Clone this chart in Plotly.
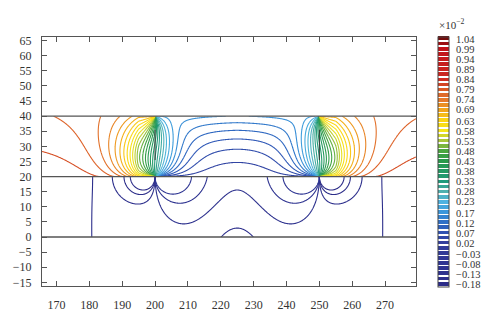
import numpy as np
import plotly.graph_objects as go

# ---------------- data ----------------
x_ticks = [170, 180, 190, 200, 210, 220, 230, 240, 250, 260, 270]
y_ticks = [-15, -10, -5, 0, 5, 10, 15, 20, 25, 30, 35, 40, 45, 50, 55, 60, 65]
x_range = [165.6, 279.4]
y_range = [-16.2, 66.2]
layer_bounds = [0, 20, 40]          # horizontal interfaces
electrode_x = [200, 250]            # vertical electrodes (y from 20 to 40)
electrode_mark_y = [25.5, 35.5]     # dark core drawn on the electrodes
side_wall_x = [181, 269]            # outer limit of the lower-layer field
cbar_ticks = [-0.18, -0.13, -0.08, -0.03, 0.02, 0.07, 0.12, 0.17, 0.23, 0.28,
              0.33, 0.38, 0.43, 0.48, 0.53, 0.58, 0.63, 0.69, 0.74, 0.79,
              0.84, 0.89, 0.94, 0.99, 1.04]
level_min, level_max, n_levels = -0.18, 1.04, 49
layer1_level_max = -0.05

# points read on the lower-layer contours (x, y)
w_points = [(225, 15.6), (207, 5.5)]     # crest and trough of the W-shaped line
hump_point = (225, 3.0)                  # top of the small arch on the bottom
outer_loop_end = (187, 20)               # end of the outer loop left of x=200
far_left_point = (170, 10)

# colour anchors of the colour bar (value -> colour)
anchor_vals = [-0.18, 0.02, 0.07, 0.12, 0.17, 0.23, 0.28, 0.33, 0.43, 0.48,
               0.53, 0.58, 0.63, 0.69, 0.74, 0.79, 0.84, 0.99, 1.04]
anchor_cols = ['#2c2c88', '#323e9c', '#3050b0', '#2f6cc4', '#3a94da', '#4fb4e0',
               '#4fb0ac', '#1f9a7a', '#2a9a4c', '#4aa640', '#a8c63a', '#f6e61c',
               '#fcd616', '#f0a01e', '#e4762c', '#d85826', '#cc2a22', '#c0121a',
               '#740c0c']

# model parameters of the field (values in units of 1e-2)
vin0, vin1, vin_pow, vin_beta, vin_lam = 0.03, 0.14, 1.7, 0.25, 12.0   # between electrodes
vout0, vout_t, vout_q, vout_qt = 0.83, 0.0355, 0.41, 0.6               # outside electrodes
vout_lam0, vout_lam1, vout_dmin = 5.5, 5.0, 5.0
tear_gamma, tear_kappa = 0.68, 1.2
rho_c, gx_s, gy_s, win_w, wall_w = 12.0, 12.0, 30.0, 4.0, 0.8

# ---------------- field ----------------
step = (level_max - level_min) / (n_levels - 1)
cmin, cmax = level_min - step / 2, level_max + step / 2

xs = np.linspace(x_range[0], x_range[1], 571)
ys2 = np.linspace(layer_bounds[1], layer_bounds[2], 201)
ys1 = np.linspace(layer_bounds[0], layer_bounds[1], 201)
mid = 0.5 * (electrode_x[0] + electrode_x[1])
ytop1 = layer_bounds[1]


def strip_jump(X, T, x0, h, sgn):
    zp = tear_kappa * sgn * (X - x0) + 1j * T * h
    zeta = np.exp(np.pi * zp / h)
    with np.errstate(all='ignore'):
        g = np.angle((zeta - 1) / (zeta + 1)) / np.pi
    return np.nan_to_num(g, nan=0.5)


def sig(v):
    return 1.0 / (1.0 + np.exp(-v))


# upper layer (20..40)
X2, Y2 = np.meshgrid(xs, ys2)
h = layer_bounds[2] - layer_bounds[1]
t = (Y2 - layer_bounds[1]) / h
tt = t ** tear_gamma
S = np.zeros_like(X2)
for xe, sg in zip(electrode_x, [1, -1]):
    S += strip_jump(X2, tt, xe, h, sg)
dx_out = np.where(X2 < mid, electrode_x[0] - X2, X2 - electrode_x[1])
dx_in = np.maximum(-dx_out, 0)
dx_eff = np.maximum(dx_out, vout_dmin)
Vin = vin0 + vin1 * t ** vin_pow * (1 + vin_beta * np.exp(-dx_in / vin_lam))
Vout = vout0 - vout_t * t - vout_q * (1 - vout_qt * t) * np.exp(-dx_eff / (vout_lam0 + vout_lam1 * t))
Z2 = Vin * (1 - S) + Vout * S


# lower layer (0..20): dipoles at the electrode feet + central dip
def dip0(x, y):
    x = np.asarray(x, float)
    y = np.asarray(y, float)
    out = np.zeros(np.broadcast(x, y).shape)
    for xe, sg in zip(electrode_x, [1, -1]):
        u = sg * (x - xe)
        r2 = u ** 2 + (y - ytop1) ** 2 + 1e-6
        env = np.where(u < 0, np.exp(-r2 / rho_c ** 2), 1.0)
        out = out + u / r2 * env
    return out


def gdip(x, y):
    return np.exp(-((np.asarray(x, float) - mid) / gx_s) ** 2 - (np.asarray(y, float) / gy_s) ** 2)


def winf(x):
    return sig((x - electrode_x[0]) / win_w) * sig((electrode_x[1] - x) / win_w)


(wx1, wy1), (wx2, wy2) = w_points
hn = (dip0(wx2, wy2) - dip0(wx1, wy1)) / (gdip(wx1, wy1) - gdip(wx2, wy2))


def fbase(x, y):
    return dip0(x, y) + hn * gdip(x, y)


D = step / (fbase(wx1, wy1) - fbase(*hump_point))
L_star = level_min + 2 * step
c1 = L_star - D * fbase(*hump_point)
K_out = (L_star - c1 - D * fbase(*outer_loop_end)) / (1 - winf(outer_loop_end[0]))
F_far = c1 + D * fbase(*far_left_point) + K_out
wall_step = F_far - L_star + step / 2

X1, Y1 = np.meshgrid(xs, ys1)
wall = -wall_step * (sig((side_wall_x[0] - X1) / wall_w) + sig((X1 - side_wall_x[1]) / wall_w))
Z1 = c1 + D * fbase(X1, Y1) + K_out * (1 - winf(X1)) + wall


# ---------------- colour scales ----------------
_rgb = np.array([[int(c[i:i + 2], 16) for i in (1, 3, 5)] for c in anchor_cols], float)


def col_at(v):
    r = [np.interp(v, anchor_vals, _rgb[:, k]) for k in range(3)]
    return 'rgb(%d,%d,%d)' % tuple(int(round(q)) for q in r)


def line_scale(start, end, size):
    # plotly maps contour lines on [start - size/2, start + (nc-1)*size - size/2]
    nc = int(np.floor((end - start) / size + 1e-6)) + 1
    out = []
    for k in range(101):
        f = k / 100
        v = f * (nc - 1) * size + start - size / 2
        out.append([f, col_at(v)])
    return out


stripe_scale = []
gap = 0.28
for k in range(n_levels):
    c = col_at(level_min + k * step)
    lo, hi = k / n_levels, (k + 1) / n_levels
    w = (hi - lo) * gap / 2
    stripe_scale += [[lo, 'white'], [lo + w, 'white'], [lo + w, c], [hi - w, c],
                     [hi - w, 'white'], [hi, 'white']]
stripe_scale[0][1] = stripe_scale[1][1] = stripe_scale[2][1]
stripe_scale[-1][1] = stripe_scale[-2][1] = stripe_scale[-3][1]

fig = go.Figure()
fig.add_trace(go.Contour(
    x=xs, y=ys2, z=np.round(Z2, 5),
    colorscale=line_scale(level_min, level_max, step),
    contours=dict(start=level_min, end=level_max, size=step, coloring='lines'),
    line=dict(width=1.1), showscale=False, hoverinfo='skip'))
fig.add_trace(go.Contour(
    x=xs, y=ys1, z=np.round(Z1, 5),
    colorscale=line_scale(level_min, layer1_level_max, step),
    contours=dict(start=level_min, end=layer1_level_max, size=step, coloring='lines'),
    line=dict(width=1.1), showscale=False, hoverinfo='skip'))

fig.add_trace(go.Scatter(
    x=[x_range[0] - 50, x_range[0] - 50], y=[0, 0], mode='markers',
    marker=dict(color=[cmin, cmax], colorscale=stripe_scale, cmin=cmin, cmax=cmax,
                showscale=True,
                colorbar=dict(
                    thickness=11, len=1.004, lenmode='fraction',
                    x=(438 - 42) / 374, xanchor='left', xpad=0,
                    y=0.5, yanchor='middle', ypad=0,
                    outlinewidth=1, outlinecolor='#444',
                    tickvals=cbar_ticks,
                    ticktext=[('%.2f' % v).replace('-', '\u2212') for v in cbar_ticks],
                    ticks='outside', ticklen=5, tickcolor='rgba(0,0,0,0)',
                    tickfont=dict(family='Liberation Serif', size=10.5, color='#333'))),
    showlegend=False, hoverinfo='skip'))

for yb in layer_bounds:
    fig.add_shape(type='line', xref='x', yref='y', x0=x_range[0], x1=x_range[1],
                  y0=yb, y1=yb, line=dict(color='#555', width=1.4))
for xe in electrode_x:
    fig.add_shape(type='line', xref='x', yref='y', x0=xe, x1=xe,
                  y0=electrode_mark_y[0], y1=electrode_mark_y[1],
                  line=dict(color='#333', width=1))

fig.add_annotation(xref='paper', yref='paper', x=(437 - 42) / 374, y=(289 - 24) / 252,
                   text='\u00d710<sup>\u22122</sup>', showarrow=False, xanchor='left',
                   yanchor='middle',
                   font=dict(family='Liberation Serif', size=11, color='#333'))

axis_common = dict(ticks='inside', ticklen=5, tickcolor='#555', tickwidth=1,
                   showline=True, linecolor='#555', linewidth=1, mirror='allticks',
                   showgrid=False, zeroline=False,
                   tickfont=dict(family='Liberation Serif', size=12, color='#333'))
fig.update_layout(
    width=500, height=324, margin=dict(l=42, r=84, t=37, b=35),
    plot_bgcolor='white', paper_bgcolor='white', showlegend=False,
    xaxis=dict(range=x_range, tickvals=x_ticks, ticklabelstandoff=8, **axis_common),
    yaxis=dict(range=y_range, tickvals=y_ticks, ticklabelstandoff=7,
               ticktext=[str(v).replace('-', '\u2212') for v in y_ticks], **axis_common))

fig.write_html('out.html')
